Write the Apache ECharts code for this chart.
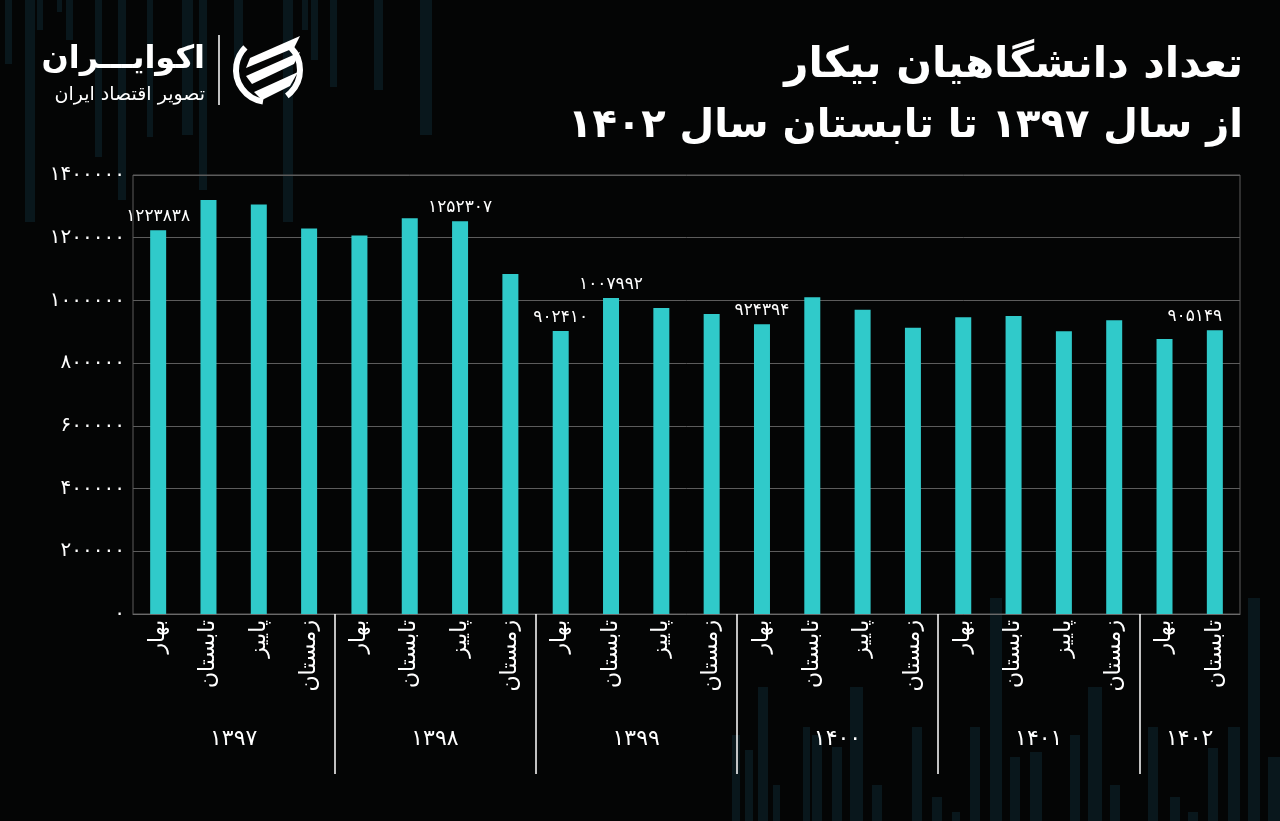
<!DOCTYPE html>
<html>
<head>
<meta charset="utf-8">
<script src="https://cdn.jsdelivr.net/npm/echarts@6/dist/echarts.min.js"></script>
<style>
  html, body { margin: 0; padding: 0; background: #040505; }
  #chart { width: 1280px; height: 821px; }
</style>
</head>
<body>
<div id="chart"></div>
<script>
// data
var seasons = ['بهار', 'تابستان', 'پاییز', 'زمستان']
var years = ['۱۳۹۷', '۱۳۹۸', '۱۳۹۹', '۱۴۰۰', '۱۴۰۱', '۱۴۰۲']
var seasonsPerYear = [4, 4, 4, 4, 4, 2]
var values = [1223838, 1320000, 1306000, 1229000,
              1207000, 1262000, 1252307, 1084000,
              902410, 1007992, 976000, 957000,
              924394, 1010000, 970000, 913000,
              946000, 950000, 902000, 937000,
              877000, 905149]
var labeledBars = [0, 6, 8, 9, 12, 21]
var yTicks = [0, 200000, 400000, 600000, 800000, 1000000, 1200000, 1400000]

var FONT = "'DejaVu Sans', sans-serif"
var barColor = '#30caca'

function fa (v) {
    return String(v).replace(/\d/g, function (d) { return '۰۱۲۳۴۵۶۷۸۹'[d] })
}

var categories = []
var groupCenters = []
var groupEdges = []
var pos = 0
seasonsPerYear.forEach(function (n, i) {
    for (var k = 0; k < n; k++) categories.push(seasons[k])
    groupCenters.push(pos + n / 2)
    pos += n
    if (i < seasonsPerYear.length - 1) groupEdges.push(pos)
})

var barData = values.map(function (v, i) {
    var item = { value: v }
    if (labeledBars.indexOf(i) >= 0) {
        item.label = { show: true }
        if (i === values.length - 1) item.label.offset = [-20, 0]
    }
    return item
})

// background decoration (faint vertical stripes) - not data
var deco = [
    [5, 0, 7, 64], [25, 0, 10, 222], [37, 0, 6, 30], [57, 0, 5, 12], [66, 0, 7, 40],
    [95, 0, 7, 157], [118, 0, 8, 200], [147, 0, 6, 137], [182, 0, 11, 135], [199, 0, 8, 190],
    [234, 0, 9, 60], [283, 0, 10, 222], [302, 0, 6, 30], [311, 0, 7, 60], [330, 0, 7, 87],
    [374, 0, 9, 90], [420, 0, 12, 135],
    [732, 735, 8, 86], [745, 750, 8, 71], [758, 687, 10, 134], [773, 785, 7, 36], [803, 727, 7, 94],
    [812, 735, 10, 86], [832, 747, 10, 74], [850, 687, 13, 134], [872, 785, 10, 36], [912, 727, 10, 94],
    [932, 797, 10, 24], [952, 812, 8, 9], [970, 727, 10, 94], [990, 598, 12, 223], [1010, 757, 10, 64],
    [1030, 752, 12, 69], [1070, 735, 10, 86], [1088, 687, 14, 134], [1110, 785, 10, 36], [1148, 727, 10, 94],
    [1170, 797, 10, 24], [1188, 812, 10, 9], [1208, 748, 10, 73], [1228, 727, 12, 94], [1248, 598, 12, 223],
    [1268, 757, 12, 64]
]

var graphics = deco.map(function (d) {
    return {
        type: 'rect', z: -10, silent: true,
        shape: { x: d[0], y: d[1], width: d[2], height: d[3] },
        style: { fill: 'rgba(18, 52, 66, 0.38)' }
    }
})

graphics.push(
    { type: 'text', z: 10, style: { text: 'تعداد دانشگاهیان بیکار', x: 1243, y: 66, align: 'right', verticalAlign: 'middle', fill: '#fff', font: 'bold 42px ' + FONT } },
    { type: 'text', z: 10, style: { text: 'از سال ۱۳۹۷ تا تابستان سال ۱۴۰۲', x: 1243, y: 127, align: 'right', verticalAlign: 'middle', fill: '#fff', font: 'bold 40px ' + FONT } },
    // logo
    { type: 'text', z: 10, style: { text: 'اکوایـــران', x: 205, y: 60, align: 'right', verticalAlign: 'middle', fill: '#fff', font: 'bold 32px ' + FONT } },
    { type: 'text', z: 10, style: { text: 'تصویر اقتصاد ایران', x: 205, y: 95, align: 'right', verticalAlign: 'middle', fill: '#fff', font: '19px ' + FONT } },
    { type: 'line', z: 10, shape: { x1: 219, y1: 35, x2: 219, y2: 105 }, style: { stroke: '#fff', lineWidth: 1.5 } },
    { type: 'arc', z: 10, shape: { cx: 268, cy: 70, r: 32, startAngle: Math.PI * 0.55, endAngle: Math.PI * 1.25 }, style: { stroke: '#fff', lineWidth: 6, fill: null } },
    { type: 'arc', z: 10, shape: { cx: 268, cy: 70, r: 32, startAngle: -Math.PI * 0.25, endAngle: Math.PI * 0.3 }, style: { stroke: '#fff', lineWidth: 6, fill: null } },
    { type: 'polygon', z: 10, shape: { points: [[250, 58], [300, 36], [294, 48], [246, 68]] }, style: { fill: '#fff' } },
    { type: 'polygon', z: 10, shape: { points: [[246, 76], [300, 52], [294, 64], [252, 84]] }, style: { fill: '#fff' } },
    { type: 'polygon', z: 10, shape: { points: [[254, 92], [298, 72], [290, 86], [262, 100]] }, style: { fill: '#fff' } }
)

var option = {
    backgroundColor: '#040505',
    textStyle: { fontFamily: FONT },
    animation: false,
    graphic: graphics,
    grid: {
        left: 133,
        right: 40,
        top: 175,
        bottom: 207,
        show: true,
        borderColor: '#5c5c5c',
        borderWidth: 1
    },
    xAxis: [
        {
            type: 'category',
            data: categories,
            axisLine: { lineStyle: { color: '#6a6a6a' } },
            axisTick: { show: false },
            axisLabel: {
                interval: 0,
                rotate: 90,
                margin: 6,
                color: '#fff',
                fontSize: 22,
                fontFamily: FONT
            }
        },
        {
            type: 'value',
            position: 'bottom',
            min: 0,
            max: categories.length,
            axisLine: { show: false },
            splitLine: { show: false },
            axisTick: {
                show: true,
                customValues: groupEdges,
                length: 160,
                lineStyle: { color: '#fff', width: 1.5 }
            },
            axisLabel: {
                customValues: groupCenters,
                margin: 114,
                color: '#fff',
                fontSize: 22,
                fontFamily: FONT,
                formatter: function (v) {
                    var i = groupCenters.indexOf(v)
                    return i >= 0 ? years[i] : ''
                }
            }
        }
    ],
    yAxis: {
        type: 'value',
        min: 0,
        max: yTicks[yTicks.length - 1],
        interval: yTicks[1] - yTicks[0],
        axisLine: { show: false },
        axisTick: { show: false },
        splitLine: { lineStyle: { color: '#5c5c5c', width: 1 } },
        axisLabel: {
            color: '#fff',
            fontSize: 20,
            margin: 8,
            fontFamily: FONT,
            formatter: function (v) { return fa(v) }
        }
    },
    series: [
        {
            type: 'bar',
            xAxisIndex: 0,
            barWidth: 16,
            itemStyle: { color: barColor },
            label: {
                show: false,
                position: 'top',
                distance: 5,
                color: '#fff',
                fontSize: 17,
                fontFamily: FONT,
                formatter: function (p) { return fa(p.value) }
            },
            data: barData
        }
    ]
}

var myChart = echarts.init(document.getElementById('chart'))
myChart.setOption(option)
</script>
</body>
</html>
